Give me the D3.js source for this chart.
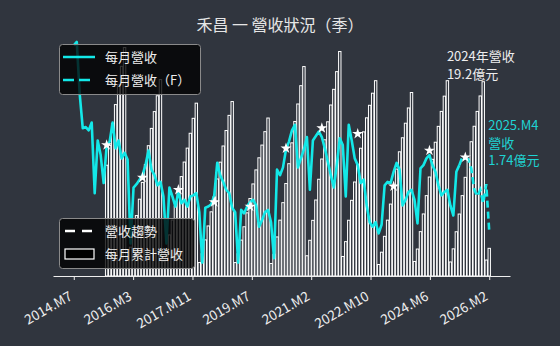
<!DOCTYPE html>
<html>
<head>
<meta charset="utf-8">
<script src="https://cdn.jsdelivr.net/npm/d3@7"></script>
<style>
    body { margin: 0; background: #30353e; }
    text { font-family: "Noto Sans CJK TC", "Noto Sans", sans-serif; }
</style>
</head>
<body>
<svg id="chart" width="560" height="346"></svg>
<script>
// monthly revenue (億元), first point = 2014.M7, last actual = 2025.M4
const firstYear = 2014, firstMonth = 7;
const revenue = [
    2.81, 2.84, 2.37, 2.07, 2.08, 2.05, 2.12, 1.49, 1.96, 1.83,
    1.58, 1.91, 1.95, 2.12, 1.89, 1.96, 1.80, 1.85, 1.79, 1.04,
    1.54, 1.57, 1.61, 1.65, 1.74, 1.87, 1.70, 1.65, 1.56, 1.59,
    1.46, 1.04, 1.54, 1.46, 1.37, 1.50, 1.40, 1.43, 1.37, 1.46,
    1.47, 1.49, 1.32, 0.87, 1.36, 1.37, 1.39, 1.47, 1.76, 1.65,
    1.59, 1.52, 1.49, 1.36, 1.32, 0.87, 1.34, 1.31, 1.37, 1.41,
    1.43, 1.38, 1.19, 1.25, 1.32, 1.34, 1.23, 0.91, 1.70, 1.65,
    1.72, 1.88, 1.95, 2.05, 2.10, 1.72, 1.80, 1.88, 1.99, 1.52,
    1.96, 2.00, 2.04, 1.99, 1.89, 1.77, 1.65, 1.54, 1.74, 1.98,
    1.92, 1.46, 2.10, 1.96, 1.80, 1.74, 1.58, 1.61, 1.38, 1.23,
    1.19, 1.23, 1.13, 1.21, 1.56, 1.59, 1.58, 1.68, 1.76, 1.70,
    1.38, 1.43, 1.50, 1.52, 1.43, 1.22, 1.71, 1.74, 1.80, 1.83,
    1.74, 1.68, 1.56, 1.47, 1.50, 1.52, 1.38, 1.29, 1.68, 1.74
];
// forecast 2025.M4 .. 2026.M2
const forecast = [1.74, 1.81, 1.80, 1.79, 1.71, 1.52, 1.46, 1.52, 1.40, 1.57, 1.15];
// cumulative bars are shown from this month index on (2015.M6)
const barFirst = 11;
const starYears = [2015, 2016, 2017, 2018, 2019, 2020, 2021, 2022, 2023, 2024, 2025];
const starValues = [1.92, 1.63, 1.52, 1.41, 1.37, 1.89, 2.07, 2.02, 1.55, 1.87, 1.81];
const tickLabels = ["2014.M7", "2016.M3", "2017.M11", "2019.M7", "2021.M2", "2022.M10", "2024.M6", "2026.M2"];

const bg = "#30353e";
const cyan = "#13e8e8";
const svg = d3.select("#chart");
svg.append("rect").attr("width", 560).attr("height", 346).attr("fill", bg);

const monthly = revenue.slice(0, -1).concat(forecast);
const n = monthly.length - 1;
let acc = 0;
const cumulative = monthly.map((v, i) => {
    if ((firstMonth - 1 + i) % 12 === 0) acc = 0;
    acc += v;
    return acc;
});

const plot = {left: 53, right: 510, top: 40, bottom: 276};
const pad = n * 0.05;
const x = d3.scaleLinear().domain([-pad, n + pad]).range([plot.left, plot.right]);
const yBar = d3.scaleLinear().domain([0, 23.2]).range([plot.bottom, plot.top]);
const yLine = d3.scaleLinear().domain([0.8, 2.9]).range([270.4, 35.2]);
const step = x(1) - x(0);

// cumulative bars
svg.append("g")
    .selectAll("rect")
    .data(d3.range(barFirst, monthly.length))
    .enter()
    .append("rect")
    .attr("x", i => x(i) - step * 0.4)
    .attr("width", step * 0.8)
    .attr("y", i => yBar(cumulative[i]))
    .attr("height", i => yBar(0) - yBar(cumulative[i]))
    .attr("fill", "none")
    .attr("stroke", "#ffffff")
    .attr("stroke-width", 1);

// x axis
const axis = svg.append("g")
    .attr("transform", `translate(0,${plot.bottom})`)
    .call(d3.axisBottom(x)
        .tickValues(d3.range(8).map(k => k * n / 7))
        .tickFormat((d, i) => tickLabels[i])
        .tickSize(4)
        .tickSizeOuter(0));
axis.select(".domain").attr("stroke", "#eeeeee");
axis.selectAll(".tick line").attr("stroke", "#eeeeee");
axis.selectAll(".tick text")
    .attr("fill", "#eeeeee")
    .attr("font-size", "13.5px")
    .attr("text-anchor", "end")
    .attr("x", 0).attr("y", 0).attr("dy", 0)
    .attr("transform", "translate(-1,23) rotate(-30)");

// monthly revenue line
const line = d3.line().x((d, i) => x(i)).y(d => yLine(d));
svg.append("path")
    .attr("d", line(revenue))
    .attr("fill", "none")
    .attr("stroke", cyan)
    .attr("stroke-width", 2.6)
    .attr("stroke-linejoin", "round");

const fLine = d3.line().x((d, i) => x(i + revenue.length - 1)).y(d => yLine(d));
svg.append("path")
    .attr("d", fLine(forecast))
    .attr("fill", "none")
    .attr("stroke", cyan)
    .attr("stroke-width", 2.6)
    .attr("stroke-dasharray", "7,4");

// stars
svg.append("g")
    .selectAll("path")
    .data(starYears)
    .enter()
    .append("path")
    .attr("d", d3.symbol(d3.symbolStar).size(38))
    .attr("transform", (d, i) => `translate(${x((d - firstYear) * 12 + 6 - firstMonth)},${yLine(starValues[i])})`)
    .attr("fill", "#ffffff");

// annotations
const idx2024 = (2024 - firstYear) * 12 + 12 - firstMonth;
const top2024 = yBar(cumulative[idx2024]);
svg.append("text").attr("x", x(idx2024) - 0.5).attr("y", top2024 - 20)
    .attr("fill", "#eeeeee").attr("font-size", "13px").text("2024年營收");
svg.append("text").attr("x", x(idx2024) - 0.5).attr("y", top2024 - 2)
    .attr("fill", "#eeeeee").attr("font-size", "13px").text("19.2億元");

const lastIdx = revenue.length - 1;
const lastY = yLine(revenue[lastIdx]);
["2025.M4", "營收", "1.74億元"].forEach((t, k) => {
    svg.append("text")
        .attr("x", x(n) - 1)
        .attr("y", lastY - (2 - k) * 17.5)
        .attr("fill", "#1fd3d3")
        .attr("font-size", "13px")
        .text(t);
});

// title
svg.append("text")
    .attr("x", 280).attr("y", 31)
    .attr("text-anchor", "middle")
    .attr("fill", "#e6e6e6")
    .attr("font-size", "16px")
    .text("禾昌 一 營收狀況（季）");

// legends
function legendBox(x0, y0, w, h) {
    svg.append("rect")
        .attr("x", x0).attr("y", y0).attr("width", w).attr("height", h)
        .attr("rx", 3)
        .attr("fill", "#000000").attr("fill-opacity", 0.78)
        .attr("stroke", "#8a8a8a").attr("stroke-width", 1);
}
function legendText(x0, y0, t) {
    svg.append("text").attr("x", x0).attr("y", y0).attr("dy", "0.35em")
        .attr("fill", "#eeeeee").attr("font-size", "13px").text(t);
}

legendBox(59.5, 44.5, 141, 50);
svg.append("line").attr("x1", 63).attr("x2", 95).attr("y1", 57).attr("y2", 57)
    .attr("stroke", cyan).attr("stroke-width", 2.5);
legendText(105, 57, "每月營收");
svg.append("line").attr("x1", 63).attr("x2", 95).attr("y1", 80).attr("y2", 80)
    .attr("stroke", cyan).attr("stroke-width", 2.5).attr("stroke-dasharray", "11,5");
legendText(105, 80, "每月營收（F）");

legendBox(59.5, 218.5, 135, 50);
svg.append("line").attr("x1", 65).attr("x2", 93).attr("y1", 231).attr("y2", 231)
    .attr("stroke", "#ffffff").attr("stroke-width", 2.5).attr("stroke-dasharray", "10,7");
legendText(105, 231, "營收趨勢");
svg.append("rect").attr("x", 65).attr("y", 249).attr("width", 29).attr("height", 10)
    .attr("fill", "#000000").attr("stroke", "#ffffff").attr("stroke-width", 1.2);
legendText(105, 254, "每月累計營收");
</script>
</body>
</html>
